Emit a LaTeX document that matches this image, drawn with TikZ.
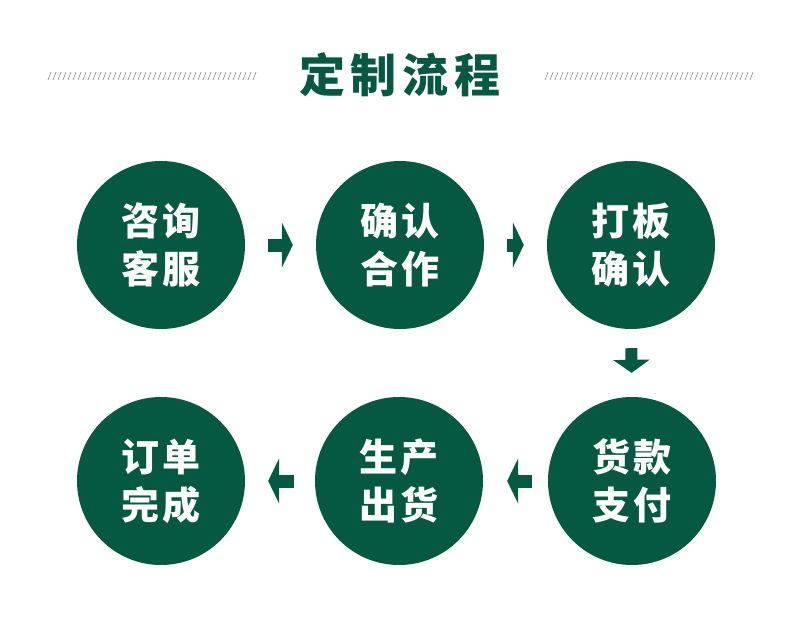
\documentclass[tikz,border=0pt]{standalone}
\usepackage{fontspec}
\newfontfamily\cjk{Noto Sans CJK SC}
\usetikzlibrary{arrows.meta}
\definecolor{dg}{RGB}{5,88,66}
\definecolor{hatch}{RGB}{140,140,140}
\begin{document}
\begin{tikzpicture}[x=1pt,y=-1pt,
  stepcircle/.style={circle,fill=dg,minimum size=168pt,inner sep=0pt,text=white,
    font=\cjk\bfseries\fontsize{38}{48}\selectfont,align=center},
  harrow/.style={draw=dg,line width=13pt,-{Triangle[width=45pt,length=11pt]}},
  varrow/.style={draw=dg,line width=12pt,-{Triangle[width=36pt,length=13pt]}}]
\useasboundingbox (0,0) rectangle (800,624);
\fill[white] (0,0) rectangle (800,624);
% title
\node[text=dg,font=\cjk\bfseries\fontsize{46}{52}\selectfont] (title) at (400,75) {定\hspace{6pt}制\hspace{6pt}流\hspace{6pt}程};
\foreach \x in {48,53,...,253} \draw[hatch,line width=0.6pt] (\x,80) -- (\x+3,72);
\foreach \x in {545,550,...,750} \draw[hatch,line width=0.6pt] (\x,80) -- (\x+3,72);
% circles
\node[stepcircle] (c1) at (161,245) {咨\hspace{4pt}询\\客\hspace{4pt}服};
\node[stepcircle] (c2) at (400,245) {确\hspace{4pt}认\\合\hspace{4pt}作};
\node[stepcircle] (c3) at (631,245) {打\hspace{4pt}板\\确\hspace{4pt}认};
\node[stepcircle] (c6) at (632,481) {货\hspace{4pt}款\\支\hspace{4pt}付};
\node[stepcircle] (c5) at (399,481) {生\hspace{4pt}产\\出\hspace{4pt}货};
\node[stepcircle] (c4) at (161,481) {订\hspace{4pt}单\\完\hspace{4pt}成};
% arrows
\draw[harrow,shorten <=23pt,shorten >=23pt] (c1.east) -- (c2.west);
\draw[harrow,shorten <=23pt,shorten >=23pt] (c2.east) -- (c3.west);
\draw[varrow,shorten <=19pt,shorten >=24pt] (c3.south) -- (c6.north);
\draw[harrow,shorten <=16pt,shorten >=24pt] (c6.west) -- (c5.east);
\draw[harrow,shorten <=21pt,shorten >=23pt] (c5.west) -- (c4.east);
\end{tikzpicture}
\end{document}
